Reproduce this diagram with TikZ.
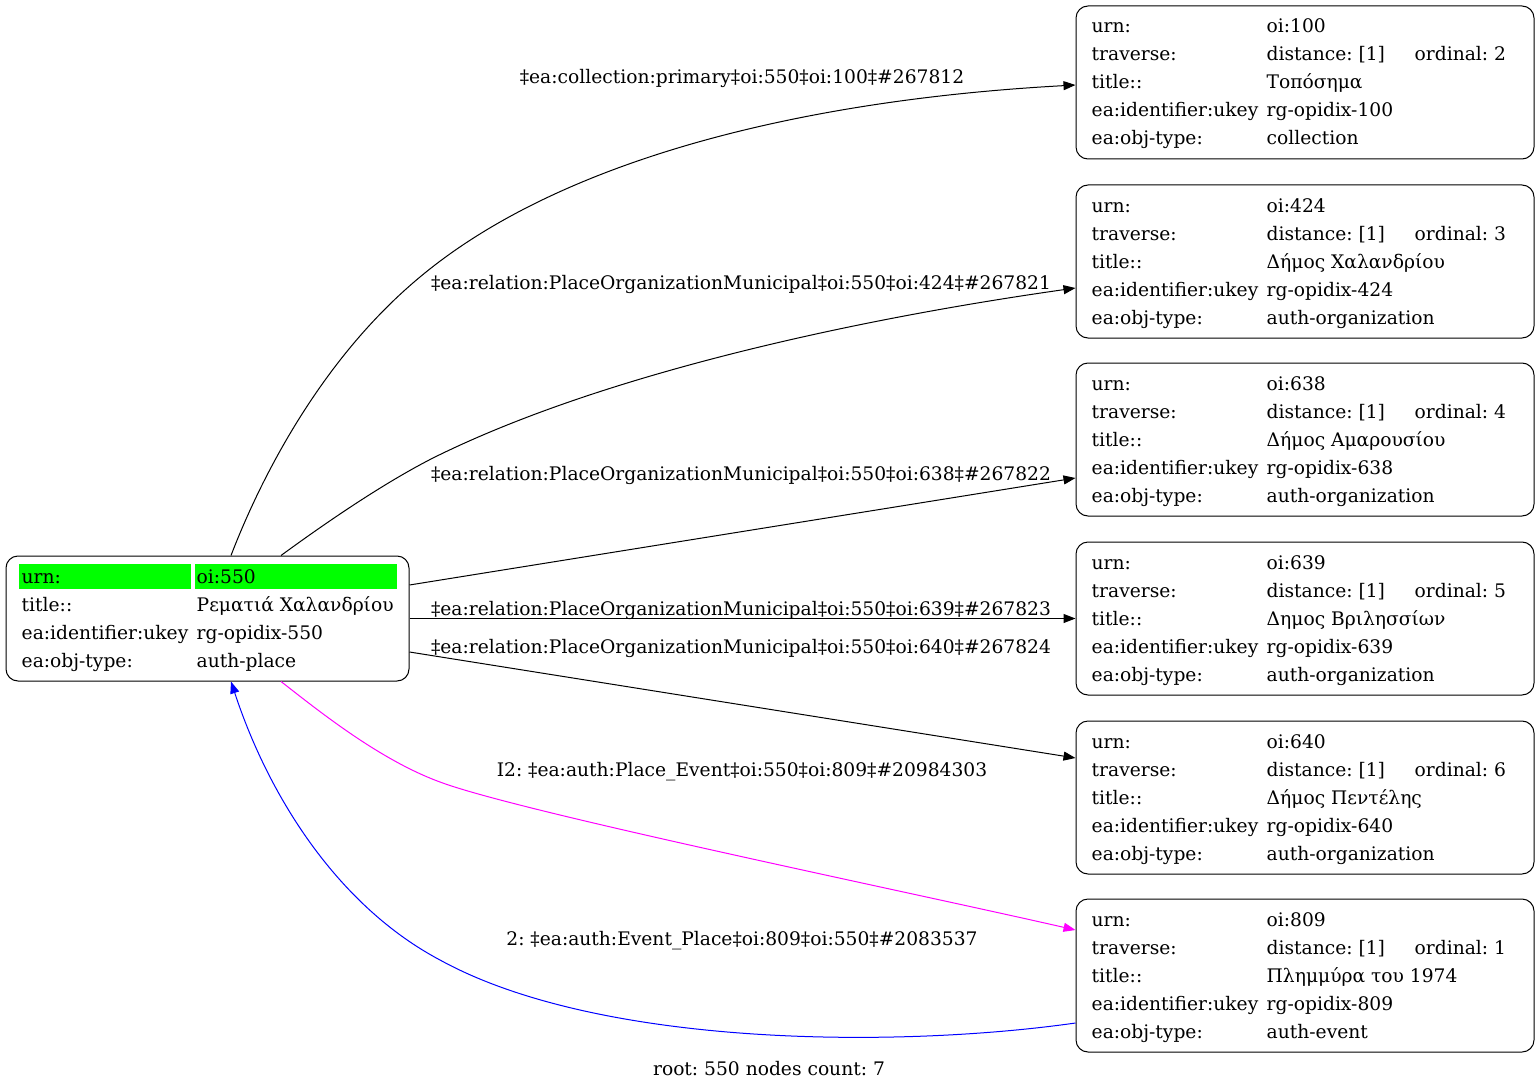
\documentclass[tikz,border=0pt]{standalone}
\usepackage{fontspec}
\setmainfont{DejaVu Serif}
\usetikzlibrary{arrows.meta}

\definecolor{rootgreen}{HTML}{00FF00}
\definecolor{placeevent}{HTML}{FF00FF}
\definecolor{eventplace}{HTML}{0000FF}

\tikzset{
  objbox/.style={draw, line width=1pt, rounded corners=12pt, inner sep=0pt,
    minimum width=458pt, minimum height=153pt},
  rootbox/.style={objbox, minimum width=403pt, minimum height=125pt},
  cell/.style={anchor=base west, inner sep=0pt, yshift=-1.5pt},
  elabel/.style={anchor=base, inner sep=0pt, yshift=-2pt},
  rel/.style={line width=1pt, -{Triangle[length=12pt,width=9pt]}},
}

\begin{document}
\frenchspacing
\begin{tikzpicture}[x=1pt, y=-1pt, font=\fontsize{18.67}{21}\selectfont]
  \useasboundingbox (0,0) rectangle (1540,1089);

  % Root
  \node[rootbox] (root) at (207.5,618.5) {};
  \fill[rootgreen] ([shift={(13,8)}]root.north west) rectangle ([shift={(185,33)}]root.north west);
  \fill[rootgreen] ([shift={(189,8)}]root.north west) rectangle ([shift={(391,33)}]root.north west);
  \node[cell] (root-urn) at ([shift={(16,26)}]root.north west) {urn:};
  \node[cell] (root-oi) at ([shift={(191,26)}]root.north west) {oi:550};
  \node[cell] (root-title) at ([shift={(16,54)}]root.north west) {title::};
  \node[cell] (root-tv) at ([shift={(191,54)}]root.north west) {Ρεματιά Χαλανδρίου};
  \node[cell] (root-ukey) at ([shift={(16,82)}]root.north west) {ea:identifier:ukey};
  \node[cell] (root-uv) at ([shift={(191,82)}]root.north west) {rg-opidix-550};
  \node[cell] (root-type) at ([shift={(16,110)}]root.north west) {ea:obj-type:};
  \node[cell] (root-yv) at ([shift={(191,110)}]root.north west) {auth-place};

  % Related objects
  \foreach \oi/\cy/\ord/\ttl/\typ in {
      100/82.5/2/Τοπόσημα/collection,
      424/261.5/3/Δήμος Χαλανδρίου/auth-organization,
      638/439.5/4/Δήμος Αμαρουσίου/auth-organization,
      639/618.5/5/Δημος Βριλησσίων/auth-organization,
      640/797.5/6/Δήμος Πεντέλης/auth-organization,
      809/975.5/1/Πλημμύρα του 1974/auth-event} {
    \node[objbox] (n\oi) at (1305,\cy) {};
    \node[cell] (n\oi-urn) at ([shift={(16,26)}]n\oi.north west) {urn:};
    \node[cell] (n\oi-oi) at ([shift={(191,26)}]n\oi.north west) {oi:\oi};
    \node[cell] (n\oi-trav) at ([shift={(16,54)}]n\oi.north west) {traverse:};
    \node[cell] (n\oi-dist) at ([shift={(191,54)}]n\oi.north west) {distance: [1]};
    \node[cell] (n\oi-ord) at ([shift={(339,54)}]n\oi.north west) {ordinal: \ord};
    \node[cell] (n\oi-title) at ([shift={(16,82)}]n\oi.north west) {title::};
    \node[cell] (n\oi-tv) at ([shift={(191,82)}]n\oi.north west) {\ttl};
    \node[cell] (n\oi-ukey) at ([shift={(16,110)}]n\oi.north west) {ea:identifier:ukey};
    \node[cell] (n\oi-uv) at ([shift={(191,110)}]n\oi.north west) {rg-opidix-\oi};
    \node[cell] (n\oi-type) at ([shift={(16,138)}]n\oi.north west) {ea:obj-type:};
    \node[cell] (n\oi-yv) at ([shift={(191,138)}]n\oi.north west) {\typ};
  }

  % Relations
  \draw[rel] ([xshift=23.5pt]root.north) .. controls (260,480) and (320,360) .. (420,277)
    .. controls (560,160) and (800,100) .. ([yshift=-2.5pt]n100.west);
  \draw[rel] ([xshift=73.5pt]root.north) .. controls (320,527) and (380,485) .. (433,458)
    .. controls (600,375) and (850,320) .. ([yshift=-26.5pt]n424.west);
  \draw[rel] ([yshift=33.5pt]root.east) -- ([yshift=-38.5pt]n638.west);
  \draw[rel] (root.east) -- (n639.west);
  \draw[rel] ([yshift=-33.5pt]root.east) -- ([yshift=39.5pt]n640.west);
  \draw[rel, placeevent] ([xshift=73.5pt]root.south) .. controls (320,712) and (380,760) .. (440,782)
    .. controls (520,812) and (900,890) .. ([yshift=45.5pt]n809.west);
  \draw[rel, eventplace] ([yshift=-47.5pt]n809.west) .. controls (900,1048) and (600,1048) .. (440,960)
    .. controls (340,907) and (270,800) .. ([xshift=23.5pt]root.south);

  % Labels
  \node[elabel] (lab100) at (742,82) {‡ea:collection:primary‡oi:550‡oi:100‡\#267812};
  \node[elabel] (lab424) at (741,287) {‡ea:relation:PlaceOrganizationMunicipal‡oi:550‡oi:424‡\#267821};
  \node[elabel] (lab638) at (741,478) {‡ea:relation:PlaceOrganizationMunicipal‡oi:550‡oi:638‡\#267822};
  \node[elabel] (lab639) at (741,613) {‡ea:relation:PlaceOrganizationMunicipal‡oi:550‡oi:639‡\#267823};
  \node[elabel] (lab640) at (741,651) {‡ea:relation:PlaceOrganizationMunicipal‡oi:550‡oi:640‡\#267824};
  \node[elabel] (lab809) at (742,774) {I2: ‡ea:auth:Place\_Event‡oi:550‡oi:809‡\#20984303};
  \node[elabel] (lab550) at (742,943) {2: ‡ea:auth:Event\_Place‡oi:809‡oi:550‡\#2083537};
  \node[elabel] (caption) at (769,1073) {root: 550 nodes count: 7};
\end{tikzpicture}
\end{document}
